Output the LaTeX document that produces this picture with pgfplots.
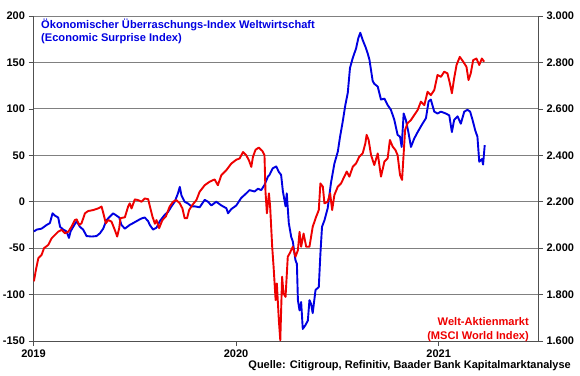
\documentclass[border=0pt]{standalone}
\usepackage{pgfplots}
\pgfplotsset{compat=1.18}
\usepackage{fontspec}
\setmainfont{Liberation Sans}
\definecolor{esiblue}{RGB}{0,0,225}
\definecolor{msred}{RGB}{238,0,0}
\definecolor{gridgray}{RGB}{128,128,128}
\definecolor{axgray}{RGB}{80,80,80}

\pgfplotstableread{
t v
2019.002 -32
2019.016 -30
2019.040 -29
2019.065 -25
2019.081 -23
2019.094 -12.5
2019.106 -15
2019.122 -17
2019.131 -27
2019.147 -30
2019.163 -32
2019.175 -39
2019.183 -32
2019.196 -27
2019.213 -21
2019.229 -27
2019.245 -30
2019.262 -37
2019.287 -37.5
2019.311 -37
2019.328 -34
2019.344 -29
2019.360 -20
2019.377 -16
2019.393 -12.5
2019.410 -15
2019.423 -17
2019.434 -25
2019.451 -29
2019.475 -25
2019.492 -23
2019.508 -21
2019.533 -18
2019.549 -17
2019.566 -21
2019.574 -25
2019.590 -30
2019.607 -28
2019.623 -21
2019.648 -14
2019.664 -11
2019.681 -5
2019.697 0
2019.713 9
2019.722 16
2019.730 7
2019.746 0
2019.763 -2
2019.779 -5
2019.796 -5
2019.820 -6
2019.845 2
2019.861 0
2019.878 -4
2019.902 0
2019.927 -4
2019.952 -7
2019.960 -12.5
2019.976 -8
2020.001 -4
2020.025 4
2020.050 9
2020.066 12.5
2020.091 11
2020.108 14
2020.124 12.5
2020.140 18
2020.157 27
2020.165 29
2020.181 36
2020.198 38
2020.211 32
2020.222 29
2020.231 11
2020.244 -5
2020.250 9
2020.260 -23
2020.272 -38
2020.280 -43
2020.293 -63
2020.300 -67
2020.305 -106
2020.313 -117
2020.321 -108
2020.329 -137
2020.342 -133
2020.354 -128
2020.362 -106
2020.370 -110
2020.378 -120
2020.392 -95
2020.408 -92
2020.416 -56
2020.424 -27
2020.436 -20
2020.452 -7
2020.468 20
2020.485 41
2020.502 54
2020.513 70
2020.526 86
2020.539 104
2020.551 117
2020.562 144
2020.576 155
2020.592 165
2020.603 176
2020.613 182
2020.625 174
2020.638 167
2020.649 160
2020.658 153
2020.674 130
2020.682 127
2020.699 124
2020.715 110
2020.732 111
2020.748 104
2020.764 99
2020.781 88
2020.797 72
2020.809 70
2020.817 59
2020.827 95
2020.838 88
2020.851 74
2020.863 59
2020.879 68
2020.896 75
2020.917 83
2020.937 90
2020.950 108
2020.961 110
2020.978 97
2020.994 95
2021.011 97
2021.035 95
2021.052 93
2021.065 75
2021.076 88
2021.093 92
2021.109 84
2021.126 97
2021.142 99
2021.155 97
2021.167 88
2021.180 77
2021.191 70
2021.200 43
2021.213 46
2021.219 40
2021.227 61
}\esidata

\pgfplotstableread{
t v
2019.002 1857
2019.012 1907
2019.024 1957
2019.040 1971
2019.052 2000
2019.073 2014
2019.090 2043
2019.106 2057
2019.122 2071
2019.139 2079
2019.155 2064
2019.172 2071
2019.188 2093
2019.204 2121
2019.213 2124
2019.226 2100
2019.237 2107
2019.254 2150
2019.270 2160
2019.295 2164
2019.319 2171
2019.336 2179
2019.344 2153
2019.357 2107
2019.369 2121
2019.385 2114
2019.401 2079
2019.413 2050
2019.423 2086
2019.429 2129
2019.451 2133
2019.467 2179
2019.475 2193
2019.484 2171
2019.500 2210
2019.516 2207
2019.533 2200
2019.549 2214
2019.566 2211
2019.577 2171
2019.587 2136
2019.599 2105
2019.607 2121
2019.620 2086
2019.636 2121
2019.653 2136
2019.672 2179
2019.689 2200
2019.705 2207
2019.722 2193
2019.735 2171
2019.746 2129
2019.758 2129
2019.768 2164
2019.784 2186
2019.804 2207
2019.820 2243
2019.845 2271
2019.869 2286
2019.894 2296
2019.910 2271
2019.927 2314
2019.952 2336
2019.976 2364
2020.001 2381
2020.017 2386
2020.034 2414
2020.050 2400
2020.063 2379
2020.075 2350
2020.083 2393
2020.096 2424
2020.112 2433
2020.129 2419
2020.140 2400
2020.145 2243
2020.152 2150
2020.162 2236
2020.168 2178
2020.178 2007
2020.185 1919
2020.195 1776
2020.201 1848
2020.211 1689
2020.218 1603
2020.227 1877
2020.234 1805
2020.244 1790
2020.255 1963
2020.264 1977
2020.280 2006
2020.293 1963
2020.305 1991
2020.313 2070
2020.321 2006
2020.333 2063
2020.346 2006
2020.362 2006
2020.378 2092
2020.395 2135
2020.408 2164
2020.416 2279
2020.428 2265
2020.436 2193
2020.452 2200
2020.464 2236
2020.474 2164
2020.485 2229
2020.502 2265
2020.518 2279
2020.534 2308
2020.546 2330
2020.559 2308
2020.576 2351
2020.592 2365
2020.608 2394
2020.625 2409
2020.638 2452
2020.644 2488
2020.654 2466
2020.666 2401
2020.682 2358
2020.699 2408
2020.715 2308
2020.732 2373
2020.748 2387
2020.759 2466
2020.773 2437
2020.786 2423
2020.797 2401
2020.809 2315
2020.819 2294
2020.827 2408
2020.834 2509
2020.846 2538
2020.863 2552
2020.879 2573
2020.896 2595
2020.912 2631
2020.929 2616
2020.945 2674
2020.961 2659
2020.978 2681
2020.994 2746
2021.011 2738
2021.027 2760
2021.043 2753
2021.055 2710
2021.065 2667
2021.076 2731
2021.088 2789
2021.104 2824
2021.121 2803
2021.137 2781
2021.147 2724
2021.158 2753
2021.170 2810
2021.186 2817
2021.200 2789
2021.213 2817
2021.224 2803
}\msdata

\begin{document}
\begin{tikzpicture}
\useasboundingbox (0pt,0pt) rectangle (580pt,375pt);
\pgfplotsset{
  common/.style={
    at={(33.5pt,34pt)}, anchor=south west, scale only axis,
    width=504.5pt, height=325pt,
    xmin=2019, xmax=2021.49,
    tick align=outside, major tick length=5pt,
    tick style={axgray, line width=0.6pt},
    axis line style={axgray, line width=0.8pt, -},
    tick label style={font=\bfseries\fontsize{11}{13}\selectfont},
    /pgf/number format/assume math mode=true,
  }
}
\begin{axis}[common,
  ymin=-150, ymax=200, ytick={-150,-100,...,200},
  xtick={2019,2020,2021}, xticklabels={2019,2020,2021},
  ymajorgrids, grid style={gridgray, line width=0.8pt},
  axis x line*=bottom, axis y line*=left,
]
\addplot[esiblue, line width=1.9pt, line join=round] table[x=t,y=v]{\esidata};
\end{axis}
\begin{axis}[common,
  ymin=1600, ymax=3000, ytick={1600,1800,...,3000},
  axis x line=none, axis y line*=right,
  /pgf/number format/.cd, 1000 sep={.},
]
\addplot[msred, line width=1.9pt, line join=round] table[x=t,y=v]{\msdata};
\end{axis}
\node[anchor=base west, inner sep=0, text=esiblue, font=\bfseries\fontsize{11.1}{13}\selectfont] at (41pt,346pt) {Ökonomischer Überraschungs-Index Weltwirtschaft};
\node[anchor=base west, inner sep=0, text=esiblue, font=\bfseries\fontsize{11.1}{13}\selectfont] at (41pt,333pt) {(Economic Surprise Index)};
\node[anchor=base east, inner sep=0, text=msred, font=\bfseries\fontsize{11.1}{13}\selectfont] at (529pt,50pt) {Welt-Aktienmarkt};
\node[anchor=base east, inner sep=0, text=msred, font=\bfseries\fontsize{11.1}{13}\selectfont] at (529pt,36pt) {(MSCI World Index)};
\node[anchor=base east, inner sep=0, font=\bfseries\fontsize{11}{13}\selectfont] at (571pt,7pt) {Quelle: Citigroup, Refinitiv, Baader Bank Kapitalmarktanalyse};
\end{tikzpicture}
\end{document}
